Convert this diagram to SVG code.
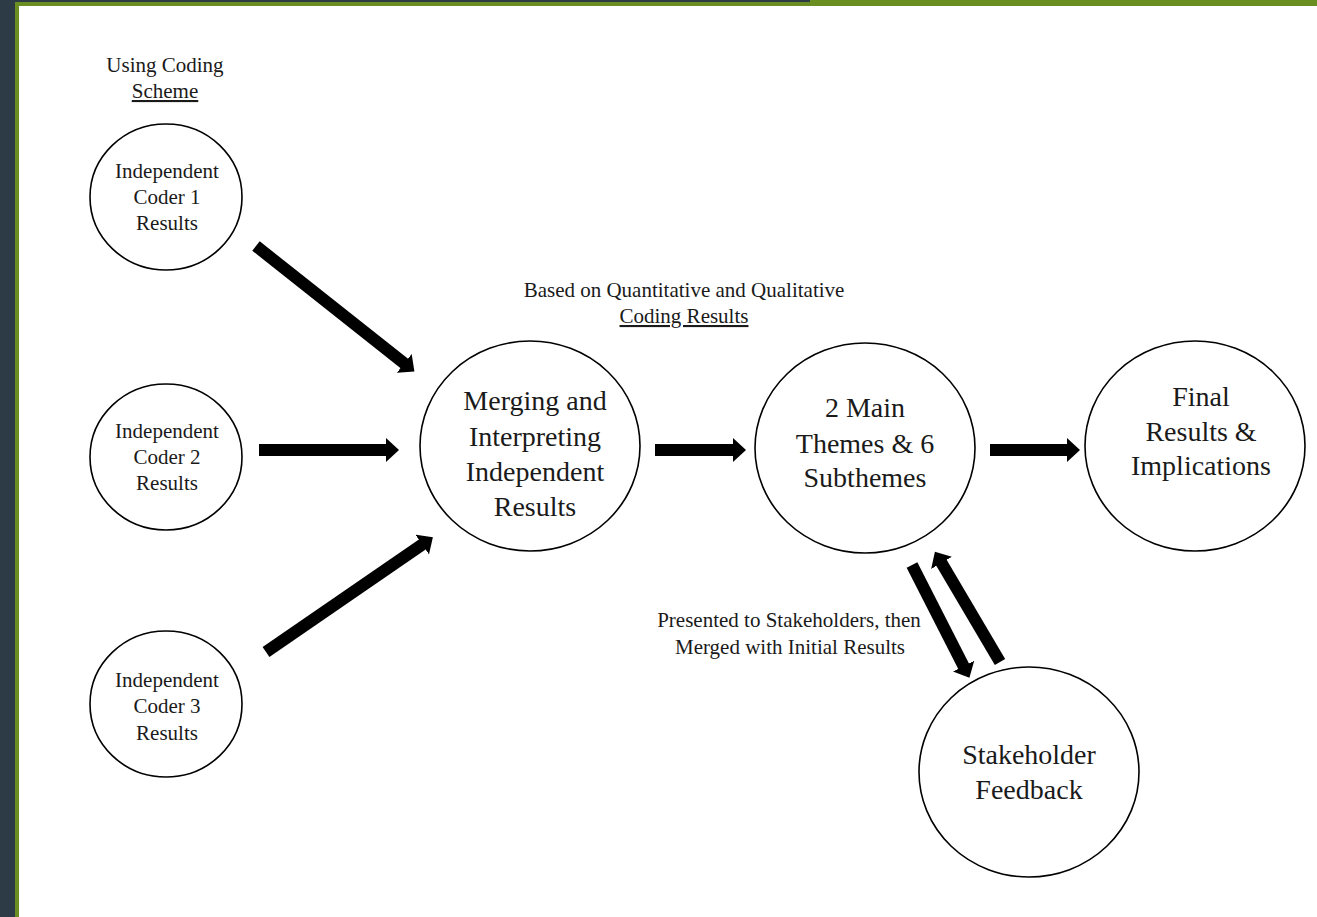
<svg xmlns="http://www.w3.org/2000/svg" width="1317" height="917" viewBox="0 0 1317 917">
<defs>
<style>
.n{fill:#fff;stroke:#000;stroke-width:1.6}
.s{font-family:"Liberation Serif","Times New Roman",serif;font-size:21px;fill:#1a1a1a;text-anchor:middle}
.b{font-family:"Liberation Serif","Times New Roman",serif;font-size:28px;fill:#1a1a1a;text-anchor:middle}
.u{text-decoration:underline}
.a{stroke:#000;stroke-width:12;fill:none;marker-end:url(#h)}
</style>
<marker id="h" markerUnits="userSpaceOnUse" markerWidth="14" markerHeight="24" refX="1" refY="12" orient="auto" viewBox="0 0 14 24">
<path d="M0,0 L13,12 L0,24 Z" fill="#000"/>
</marker>
</defs>
<rect x="0" y="0" width="1317" height="917" fill="#fff"/>
<rect x="0" y="0" width="1317" height="6" fill="#6b8e23"/>
<rect x="0" y="0" width="810" height="2" fill="#2c3b45"/>
<rect x="0" y="0" width="15" height="917" fill="#2c3b45"/>
<rect x="15" y="2" width="4" height="915" fill="#6b8e23"/>

<g id="label-scheme">
<text class="s" x="165" y="72">Using Coding</text>
<text class="s u" x="165" y="98">Scheme</text>
</g>
<g id="label-based">
<text class="s" x="684" y="297">Based on Quantitative and Qualitative</text>
<text class="s u" x="684" y="323">Coding Results</text>
</g>
<g id="label-presented">
<text class="s" x="789" y="627">Presented to Stakeholders, then</text>
<text class="s" x="790" y="654">Merged with Initial Results</text>
</g>

<g id="coder1">
<ellipse class="n" cx="166" cy="197" rx="76" ry="73"/>
<text class="s" x="167" y="178">Independent</text>
<text class="s" x="167" y="204">Coder 1</text>
<text class="s" x="167" y="230">Results</text>
</g>
<g id="coder2">
<ellipse class="n" cx="166" cy="457" rx="76" ry="73"/>
<text class="s" x="167" y="438">Independent</text>
<text class="s" x="167" y="464">Coder 2</text>
<text class="s" x="167" y="490">Results</text>
</g>
<g id="coder3">
<ellipse class="n" cx="166" cy="704" rx="76" ry="73"/>
<text class="s" x="167" y="687">Independent</text>
<text class="s" x="167" y="713">Coder 3</text>
<text class="s" x="167" y="740">Results</text>
</g>
<g id="merging">
<ellipse class="n" cx="530" cy="446" rx="110" ry="105"/>
<text class="b" x="535" y="410">Merging and</text>
<text class="b" x="535" y="446">Interpreting</text>
<text class="b" x="535" y="481">Independent</text>
<text class="b" x="535" y="516">Results</text>
</g>
<g id="themes">
<ellipse class="n" cx="865" cy="448" rx="110" ry="105"/>
<text class="b" x="865" y="417">2 Main</text>
<text class="b" x="865" y="453">Themes &amp; 6</text>
<text class="b" x="865" y="487">Subthemes</text>
</g>
<g id="final">
<ellipse class="n" cx="1195" cy="446" rx="110" ry="105"/>
<text class="b" x="1201" y="406">Final</text>
<text class="b" x="1201" y="441">Results &amp;</text>
<text class="b" x="1201" y="475">Implications</text>
</g>
<g id="stakeholder">
<ellipse class="n" cx="1029" cy="772" rx="110" ry="105"/>
<text class="b" x="1029" y="764">Stakeholder</text>
<text class="b" x="1029" y="799">Feedback</text>
</g>

<g id="connectors">
<line class="a" x1="256" y1="246" x2="405" y2="364"/>
<line class="a" x1="259" y1="450" x2="387" y2="450"/>
<line class="a" x1="266" y1="652" x2="423" y2="544"/>
<line class="a" x1="655" y1="450" x2="734" y2="450"/>
<line class="a" x1="990" y1="450" x2="1068" y2="450"/>
<line class="a" x1="912" y1="565" x2="964" y2="667"/>
<line class="a" x1="1000" y1="662" x2="941" y2="562"/>
</g>
</svg>
